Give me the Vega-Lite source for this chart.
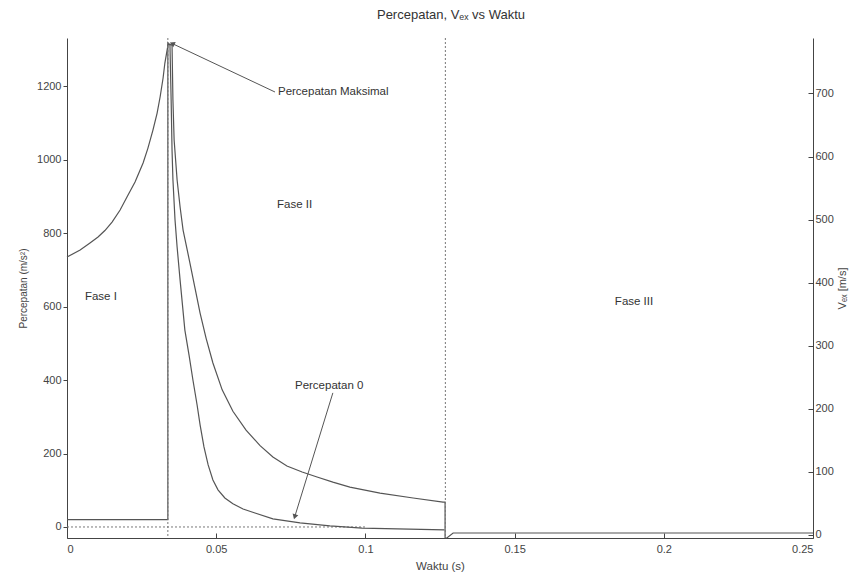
{
  "$schema": "https://vega.github.io/schema/vega-lite/v6.json",
  "width": 746,
  "height": 500,
  "autosize": {"type": "none"},
  "padding": {"left": 67, "top": 38, "right": 42, "bottom": 36},
  "background": "white",
  "config": {
    "font": "Liberation Sans",
    "view": {"stroke": null},
    "axis": {
      "grid": false,
      "domainColor": "#444",
      "tickColor": "#444",
      "labelColor": "#444",
      "titleColor": "#444",
      "labelFont": "Liberation Sans",
      "titleFont": "Liberation Sans",
      "labelFontSize": 11,
      "titleFontSize": 10,
      "titleFontWeight": "normal"
    }
  },
  "title": {
    "text": "Percepatan, Vₑₓ vs Waktu",
    "fontSize": 13,
    "fontWeight": "normal",
    "color": "#333",
    "anchor": "middle",
    "dx": 11,
    "offset": 16
  },
  "datasets": {
    "acc": [
      {"i": 0, "t": 0, "v": 20},
      {"i": 1, "t": 0.0338, "v": 20},
      {"i": 2, "t": 0.0338, "v": 1318},
      {"i": 3, "t": 0.0345, "v": 1312},
      {"i": 4, "t": 0.0349, "v": 1162},
      {"i": 5, "t": 0.0352, "v": 1026},
      {"i": 6, "t": 0.0355, "v": 945},
      {"i": 7, "t": 0.0362, "v": 836},
      {"i": 8, "t": 0.0369, "v": 762},
      {"i": 9, "t": 0.0379, "v": 672},
      {"i": 10, "t": 0.0395, "v": 536},
      {"i": 11, "t": 0.0409, "v": 468},
      {"i": 12, "t": 0.0422, "v": 400},
      {"i": 13, "t": 0.0436, "v": 332},
      {"i": 14, "t": 0.0446, "v": 278},
      {"i": 15, "t": 0.0459, "v": 218},
      {"i": 16, "t": 0.0473, "v": 169},
      {"i": 17, "t": 0.0489, "v": 128},
      {"i": 18, "t": 0.0506, "v": 101},
      {"i": 19, "t": 0.0529, "v": 79},
      {"i": 20, "t": 0.0556, "v": 63},
      {"i": 21, "t": 0.059, "v": 49},
      {"i": 22, "t": 0.063, "v": 38},
      {"i": 23, "t": 0.069, "v": 22},
      {"i": 24, "t": 0.0781, "v": 11},
      {"i": 25, "t": 0.0881, "v": 3},
      {"i": 26, "t": 0.0989, "v": -3},
      {"i": 27, "t": 0.1265, "v": -8}
    ],
    "vex": [
      {"i": 0, "t": 0, "v": 440.6},
      {"i": 1, "t": 0.0044, "v": 451.7},
      {"i": 2, "t": 0.0077, "v": 462.8},
      {"i": 3, "t": 0.0104, "v": 472.3},
      {"i": 4, "t": 0.0127, "v": 482.6},
      {"i": 5, "t": 0.0151, "v": 496.1},
      {"i": 6, "t": 0.0178, "v": 515.2},
      {"i": 7, "t": 0.0201, "v": 535.8},
      {"i": 8, "t": 0.0228, "v": 559.7},
      {"i": 9, "t": 0.0255, "v": 589.7},
      {"i": 10, "t": 0.0271, "v": 613.0},
      {"i": 11, "t": 0.0288, "v": 642.0},
      {"i": 12, "t": 0.0302, "v": 669.0},
      {"i": 13, "t": 0.0312, "v": 694.4},
      {"i": 14, "t": 0.0322, "v": 724.5},
      {"i": 15, "t": 0.0328, "v": 748.3},
      {"i": 16, "t": 0.0339, "v": 778.4},
      {"i": 17, "t": 0.0352, "v": 776.8},
      {"i": 18, "t": 0.0355, "v": 689.6},
      {"i": 19, "t": 0.0359, "v": 626.2},
      {"i": 20, "t": 0.0369, "v": 562.7},
      {"i": 21, "t": 0.0379, "v": 519.9},
      {"i": 22, "t": 0.0389, "v": 483.4},
      {"i": 23, "t": 0.0412, "v": 431.1},
      {"i": 24, "t": 0.0429, "v": 391.4},
      {"i": 25, "t": 0.0446, "v": 351.8},
      {"i": 26, "t": 0.0466, "v": 312.1},
      {"i": 27, "t": 0.0489, "v": 272.5},
      {"i": 28, "t": 0.052, "v": 230.0},
      {"i": 29, "t": 0.0556, "v": 196.0},
      {"i": 30, "t": 0.06, "v": 166.0},
      {"i": 31, "t": 0.0647, "v": 141.5},
      {"i": 32, "t": 0.069, "v": 123.4},
      {"i": 33, "t": 0.0737, "v": 109.1},
      {"i": 34, "t": 0.0788, "v": 99.6},
      {"i": 35, "t": 0.0838, "v": 91.7},
      {"i": 36, "t": 0.0891, "v": 83.7},
      {"i": 37, "t": 0.0948, "v": 75.8},
      {"i": 38, "t": 0.1049, "v": 66.3},
      {"i": 39, "t": 0.116, "v": 58.4},
      {"i": 40, "t": 0.126, "v": 52.0},
      {"i": 41, "t": 0.1267, "v": 52.0},
      {"i": 42, "t": 0.1267, "v": -5},
      {"i": 43, "t": 0.1273, "v": -5},
      {"i": 44, "t": 0.1294, "v": 2.9},
      {"i": 45, "t": 0.25, "v": 2.9}
    ],
    "labels": [
      {"text": "Fase I", "t": 0.006, "v": 626},
      {"text": "Fase II", "t": 0.0704, "v": 876},
      {"text": "Fase III", "t": 0.1836, "v": 612},
      {"text": "Percepatan Maksimal", "t": 0.0707, "v": 1184},
      {"text": "Percepatan 0", "t": 0.0764, "v": 384}
    ],
    "arrowMax": [{"t": 0.0697, "v": 1184, "t2": 0.0355, "v2": 1315}],
    "arrowZero": [{"t": 0.0891, "v": 365, "t2": 0.0764, "v2": 30}],
    "dotH": [{"t": 0, "t2": 0.1, "v": 0}],
    "dotV": [{"t": 0.0338}, {"t": 0.1268}]
  },
  "encoding": {
    "x": {
      "field": "t",
      "type": "quantitative",
      "scale": {"domain": [0, 0.25], "nice": false, "zero": false},
      "axis": {
        "title": "Waktu (s)",
        "titleFontSize": 11.5,
        "values": [0, 0.05, 0.1, 0.15, 0.2, 0.25],
        "format": "~g",
        "tickSize": -5,
        "labelPadding": 10,
        "titlePadding": 6
      }
    }
  },
  "layer": [
    {
      "encoding": {
        "y": {
          "field": "v",
          "type": "quantitative",
          "scale": {"domain": [-30, 1331], "nice": false, "zero": false},
          "axis": {
            "orient": "left",
            "title": "Percepatan (m/s²)",
            "format": "d",
            "values": [0, 200, 400, 600, 800, 1000, 1200],
            "tickSize": 4,
            "labelPadding": 2,
            "titlePadding": 8
          }
        }
      },
      "layer": [
        {
          "data": {"name": "dotH"},
          "mark": {"type": "rule", "color": "#777", "strokeDash": [2, 2], "strokeWidth": 1},
          "encoding": {"x2": {"field": "t2"}}
        },
        {
          "data": {"name": "acc"},
          "mark": {"type": "line", "color": "#555", "strokeWidth": 1.2},
          "encoding": {"order": {"field": "i", "type": "quantitative"}}
        },
        {
          "data": {"name": "arrowMax"},
          "mark": {"type": "rule", "color": "#555", "strokeWidth": 1},
          "encoding": {"x2": {"field": "t2"}, "y2": {"field": "v2"}}
        },
        {
          "data": {"name": "arrowMax"},
          "mark": {"type": "point", "shape": "triangle", "filled": true, "color": "#555", "size": 35, "angle": 295, "opacity": 1},
          "encoding": {"x": {"field": "t2", "type": "quantitative"}, "y": {"field": "v2", "type": "quantitative"}}
        },
        {
          "data": {"name": "arrowZero"},
          "mark": {"type": "rule", "color": "#555", "strokeWidth": 1},
          "encoding": {"x2": {"field": "t2"}, "y2": {"field": "v2"}}
        },
        {
          "data": {"name": "arrowZero"},
          "mark": {"type": "point", "shape": "triangle", "filled": true, "color": "#555", "size": 35, "angle": 197, "opacity": 1},
          "encoding": {"x": {"field": "t2", "type": "quantitative"}, "y": {"field": "v2", "type": "quantitative"}}
        },
        {
          "data": {"name": "labels"},
          "mark": {"type": "text", "align": "left", "baseline": "middle", "fontSize": 11.5, "color": "#333", "font": "Liberation Sans"},
          "encoding": {"text": {"field": "text", "type": "nominal"}}
        }
      ]
    },
    {
      "data": {"name": "vex"},
      "mark": {"type": "line", "color": "#555", "strokeWidth": 1.2},
      "encoding": {
        "y": {
          "field": "v",
          "type": "quantitative",
          "scale": {"domain": [-5, 788], "nice": false, "zero": false},
          "axis": {
            "orient": "right",
            "title": "Vₑₓ [m/s]",
            "titleFontSize": 11,
            "titleAngle": -90,
            "values": [0, 100, 200, 300, 400, 500, 600, 700],
            "tickSize": -5,
            "labelPadding": 7,
            "titlePadding": 14
          }
        },
        "order": {"field": "i", "type": "quantitative"}
      }
    },
    {
      "data": {"name": "dotV"},
      "mark": {"type": "rule", "color": "#777", "strokeDash": [2, 2], "strokeWidth": 1},
      "encoding": {}
    }
  ],
  "resolve": {"scale": {"y": "independent"}}
}
